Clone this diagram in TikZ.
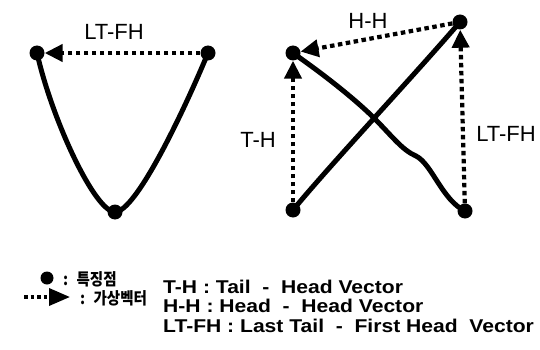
\documentclass[tikz,border=0pt]{standalone}
\usepackage{fontspec}
\setmainfont{Liberation Sans}
\newfontfamily\krfont[FakeStretch=0.88]{Noto Sans CJK KR}
\newfontfamily\legfont[FakeStretch=1.14]{Liberation Sans}
\usetikzlibrary{arrows.meta}
\tikzset{
  fpt/.style={circle, fill=black, inner sep=0pt, minimum size=15pt},
  curve/.style={line width=5pt, line cap=round},
  vec/.style={line width=4.2pt, dash pattern=on 4.5pt off 3.5pt, -{Triangle[length=18pt,width=17pt]}},
  lbl/.style={font=\fontsize{22}{24}\selectfont, inner sep=0pt},
  leg/.style={font=\legfont\bfseries\fontsize{18.5}{20}\selectfont, inner sep=0pt, anchor=base west},
  legkr/.style={font=\krfont\bfseries\fontsize{16.5}{18}\selectfont, inner sep=0pt, anchor=west}
}
\begin{document}
\begin{tikzpicture}[x=1pt,y=-1pt]
\useasboundingbox (0,0) rectangle (540,350);
% left figure
\node[fpt] (L) at (37,53) {};
\node[fpt] (R) at (208,53) {};
\node[fpt] (B) at (115,212) {};
\draw[curve] (L.center) .. controls (52,120) and (95,212) .. (B.center)
  .. controls (135,212) and (180,120) .. (R.center);
\draw[vec] (R) -- (L);
\node[lbl] (l1) at (114,32) {LT-FH};
% right figure
\node[fpt] (TL) at (293,53) {};
\node[fpt] (TR) at (460,22) {};
\node[fpt] (BL) at (293,210) {};
\node[fpt] (BR) at (465,211) {};
\coordinate (X) at (373,117);
\draw[curve] (BL.center) .. controls (330,165) and (410,80) .. (TR.center);
\draw[curve] (TL.center) .. controls (310,65) and (345,90) .. (X)
  .. controls (392,136) and (402,150) .. (416,156)
  .. controls (432,164) and (442,200) .. (BR.center);
\draw[vec] (BL) -- (TL);
\draw[vec] (BR) -- (TR);
\draw[vec] (TR) -- (TL);
\node[lbl] (l2) at (368,21) {H-H};
\node[lbl] (l3) at (258,140) {T-H};
\node[lbl] (l4) at (506,134) {LT-FH};
% legend
\node[circle, fill=black, inner sep=0pt, minimum size=13pt] (ld) at (47,278) {};
\node[legkr] (k1) at (63,279) {:\enspace 특징점};
\coordinate (la) at (24,297);
\coordinate (lb) at (70,297);
\draw[line width=3.5pt, dash pattern=on 3.5pt off 3pt, -{Triangle[length=21pt,width=17pt]}] (la) -- (lb);
\node[legkr] (k2) at (80,298) {:\enspace 가상벡터};
\node[leg] (t1) at (163,293) {T-H : Tail \ - \ Head Vector};
\node[leg] (t2) at (163,312) {H-H : Head \ - \ Head Vector};
\node[leg] (t3) at (163,332) {LT-FH : Last Tail \ - \ First Head \ Vector};
\end{tikzpicture}
\end{document}
